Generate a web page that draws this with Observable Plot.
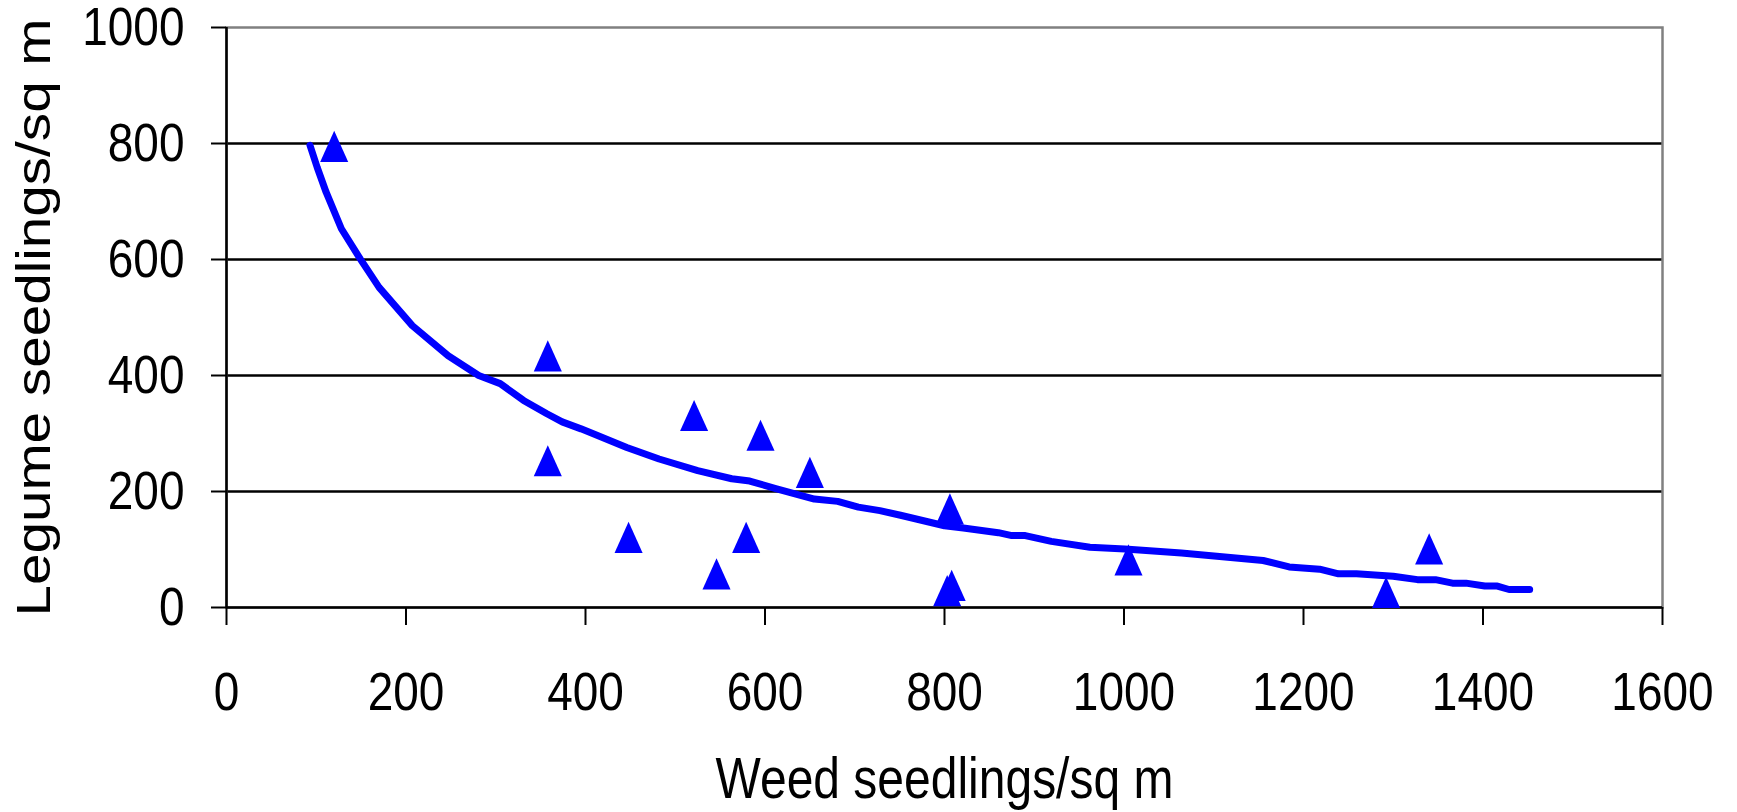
<!DOCTYPE html>
<html><head><meta charset="utf-8">
<script src="https://cdn.jsdelivr.net/npm/d3@7"></script>
<script src="https://cdn.jsdelivr.net/npm/@observablehq/plot@0.6"></script>
<style>body{margin:0;background:#fff} svg{display:block}</style>
</head><body><div id="chart"></div>
<script>
// Observed data points (weed vs legume seedlings per sq m)
const pointX = [120, 358, 358, 448, 521, 546, 579, 595, 650, 806, 803, 808, 1005, 1292, 1340];
const pointY = [795, 434, 253, 121, 331, 58, 121, 297, 233, 170, 29, 38, 82, 26, 101];
// Fitted curve as drawn
const curveX = [93, 101, 111, 128, 149, 170, 207, 247, 281, 305, 331, 357, 374, 395, 408, 446, 482, 525, 563, 583, 612, 655, 681, 704, 728, 751, 800, 821, 860, 875, 890, 919, 962, 1001, 1064, 1155, 1184, 1218, 1239, 1259, 1300, 1327, 1347, 1366, 1381, 1402, 1416, 1429, 1452];
const curveY = [797, 759, 716, 653, 601, 552, 486, 434, 400, 386, 357, 334, 320, 308, 300, 276, 256, 236, 222, 218, 205, 187, 183, 173, 167, 159, 141, 137, 129, 124, 124, 114, 104, 101, 94, 81, 70, 66, 58, 58, 54, 48, 48, 42, 42, 37, 37, 31, 31];
const xTicks = [0, 200, 400, 600, 800, 1000, 1200, 1400, 1600];
const yTicks = [0, 200, 400, 600, 800, 1000];
const gridY = [200, 400, 600, 800];
const xLabel = "Weed seedlings/sq m";
const yLabel = "Legume seedlings/sq m";

const points = pointX.map((x, i) => ({x, y: pointY[i]}));
const curve = curveX.map((x, i) => ({x, y: curveY[i]}));
const font = '"Liberation Sans",Arial,Helvetica,sans-serif';

// upright triangle marker, bounding box centred on the point, slightly tall
const tallTriangle = {
  draw(context, size) {
    const s = Math.sqrt(size);
    const hw = 0.72 * s, hh = 0.8 * s;
    context.moveTo(0, -hh);
    context.lineTo(hw, hh);
    context.lineTo(-hw, hh);
    context.closePath();
  }
};

const chart = Plot.plot({
  width: 1737, height: 812,
  marginLeft: 226, marginRight: 75, marginTop: 27, marginBottom: 205,
  style: {fontFamily: font, fontSize: "46px", color: "#000", background: "#fff"},
  x: {domain: [0, 1600]},
  y: {domain: [0, 1000]},
  marks: [
    Plot.ruleY(gridY, {stroke: "#000", strokeWidth: 2.5}),
    Plot.frame({stroke: "#808080", strokeWidth: 2.5}),
    Plot.ruleX([0], {stroke: "#000", strokeWidth: 2.5}),
    Plot.ruleY([0], {stroke: "#000", strokeWidth: 2.5}),
    Plot.axisX(xTicks, {tickSize: 18, tickPadding: 49, strokeWidth: 2, strokeOpacity: 1, tickFormat: d => String(d), label: null, fontSize: 46}),
    Plot.axisY(yTicks, {tickSize: 15, tickPadding: 27, strokeWidth: 2, strokeOpacity: 1, tickFormat: d => String(d), label: null, fontSize: 46}),
    Plot.axisX([], {tickSize: 0, label: xLabel, labelAnchor: "center", labelArrow: "none", labelOffset: 188, fontSize: 48}),
    Plot.axisY([], {tickSize: 0, label: yLabel, labelAnchor: "center", labelArrow: "none", labelOffset: 211, fontSize: 48}),
    Plot.line(curve, {x: "x", y: "y", stroke: "#0000FF", strokeWidth: 7}),
    Plot.dot(points, {x: "x", y: "y", symbol: tallTriangle, r: 11, fill: "#0000FF", stroke: "none"})
  ]
});
document.getElementById("chart").appendChild(chart);

// The reference glyphs are about 18% taller than wide: stretch each text vertically about its own centre
const S = 1.18;
const svgNS = "http://www.w3.org/2000/svg";
chart.querySelectorAll('g[aria-label$="axis tick label"] text, g[aria-label$="axis label"] text').forEach(t => {
  const g = document.createElementNS(svgNS, "g");
  t.parentNode.insertBefore(g, t);
  g.appendChild(t);
  const bb = g.getBBox();
  const cx = bb.x + bb.width / 2, cy = bb.y + bb.height / 2;
  g.setAttribute("transform", `translate(${cx},${cy}) scale(1,${S}) translate(${-cx},${-cy})`);
});
</script>
</body></html>
